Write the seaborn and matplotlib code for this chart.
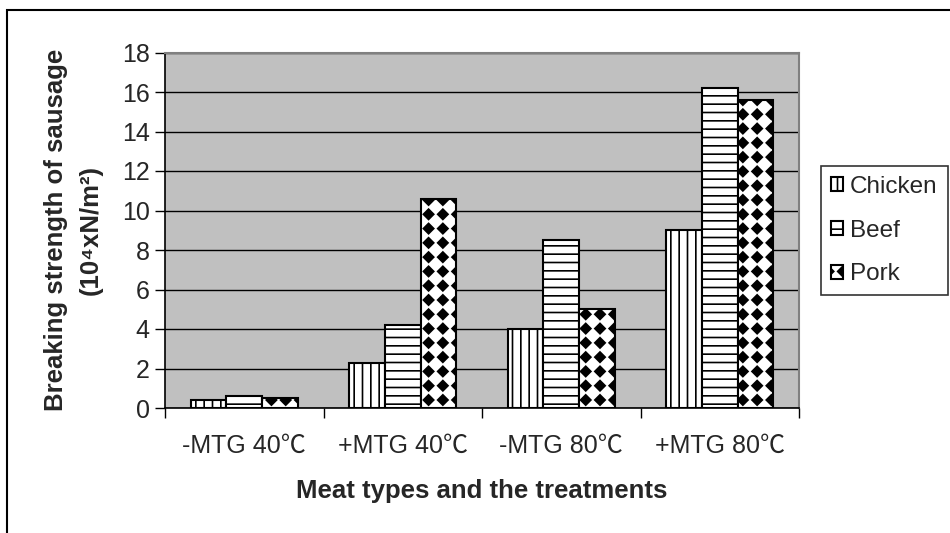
import numpy as np
import pandas as pd
import matplotlib
matplotlib.use("Agg")
import matplotlib.pyplot as plt
import matplotlib.hatch as mhatch
from matplotlib.path import Path
from matplotlib.patches import Rectangle
import seaborn as sns

# data
treatments = ["-MTG 40℃", "+MTG 40℃", "-MTG 80℃", "+MTG 80℃"]
meats = ["Chicken", "Beef", "Pork"]
chicken = [0.4, 2.3, 4.0, 9.0]
beef = [0.6, 4.2, 8.5, 16.2]
pork = [0.5, 10.6, 5.0, 15.6]
yticks = [0, 2, 4, 6, 8, 10, 12, 14, 16, 18]

df = pd.DataFrame({
    "treatment": treatments * 3,
    "meat": np.repeat(meats, len(treatments)),
    "value": chicken + beef + pork,
})


# square grid of filled diamonds, used in place of the '*' star hatch
class Diamonds(mhatch.HatchPatternBase):
    def __init__(self, hatch, density):
        self.n = hatch.count("*") * 7
        self.num_vertices = (self.n + 1) ** 2 * 5 if self.n else 0

    def set_vertices_and_codes(self, vertices, codes):
        d = np.array([[0, 1], [-1, 0], [0, -1], [1, 0], [0, 1]]) * 0.052
        c = [Path.MOVETO] + [Path.LINETO] * 3 + [Path.CLOSEPOLY]
        pos = np.linspace(0, 1, self.n + 1)
        vertices[:] = np.concatenate([d + [x, y] for y in pos for x in pos])
        codes[:] = np.tile(c, (self.n + 1) ** 2)


mhatch._hatch_types[mhatch._hatch_types.index(mhatch.Stars)] = Diamonds

sns.set_style("white")
plt.rcParams["font.family"] = ["Liberation Sans", "Noto Sans CJK SC", "DejaVu Sans"]
plt.rcParams["hatch.linewidth"] = 1.2

fig = plt.figure(figsize=(9.5, 5.33), dpi=100)
ax = fig.add_axes([165 / 950, 1 - 408 / 533, 634 / 950, 355.5 / 533])
ax.set_facecolor("#c0c0c0")

sns.barplot(data=df, x="treatment", y="value", hue="meat", ax=ax,
            palette=["white"] * 3, width=0.672, edgecolor="black",
            linewidth=1.5, legend=False, zorder=3)

hatches = ["||", "--", "*"]
for cont, h in zip(ax.containers, hatches):
    for bar in cont:
        bar.set_hatch(h)

ax.set_ylim(0, 18)
ax.set_xlim(-0.5, 3.5)
ax.set_yticks(yticks)
ax.grid(axis="y", color="black", linewidth=1, zorder=0)
ax.set_axisbelow(True)
ax.tick_params(axis="y", labelsize=18, length=7, width=1, color="black",
               direction="out", left=True, pad=4)
ax.tick_params(axis="x", labelsize=18, length=0, pad=19)
ax.set_xticks(np.arange(-0.5, 4, 1), minor=True)
ax.tick_params(axis="x", which="minor", length=7, width=1, color="black",
               direction="out", bottom=True)

for side in ["left", "bottom"]:
    ax.spines[side].set_color("black")
    ax.spines[side].set_linewidth(1.2)
for side in ["top", "right"]:
    ax.spines[side].set_color("#808080")
    ax.spines[side].set_linewidth(1.5)

ax.set_xlabel("Meat types and the treatments", fontsize=18.5, fontweight="bold")
ax.xaxis.set_label_coords(0.5, -0.2)
ax.set_ylabel("Breaking strength of sausage\n(10⁴xN/m²)", fontsize=18.5,
              fontweight="bold", linespacing=1.55)
ax.yaxis.set_label_coords(-0.098, 0.5)

handles = [cont.patches[0] for cont in ax.containers]
leg = fig.legend(handles, meats, loc="upper left",
                 bbox_to_anchor=(821 / 950, 1 - 166 / 533),
                 fontsize=17.5, frameon=True, fancybox=False,
                 handlelength=0.5, handleheight=0.5, handletextpad=0.3,
                 labelspacing=0.9, borderpad=0.4, borderaxespad=0)
leg.get_frame().set_edgecolor("black")
leg.get_frame().set_linewidth(1.2)

# outer chart frame
fig.patches.append(Rectangle((7 / 950, -0.1), 1.1, 1.1 - 10 / 533,
                             transform=fig.transFigure, fill=False,
                             edgecolor="black", linewidth=1.5))

fig.savefig("out.png", dpi=100)
